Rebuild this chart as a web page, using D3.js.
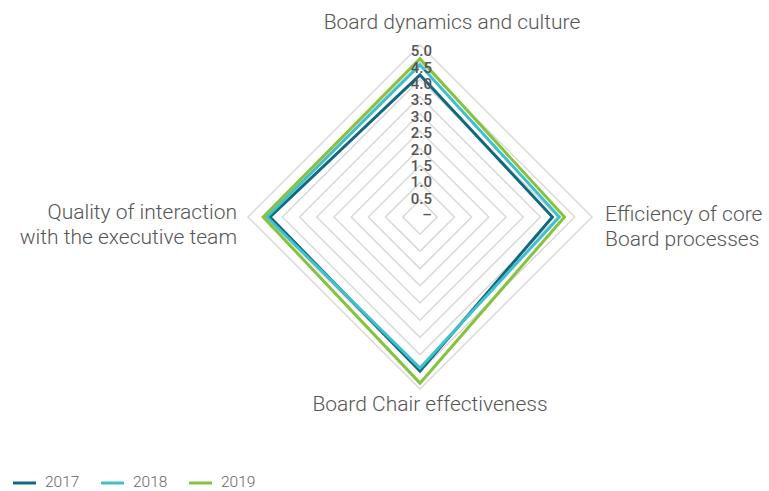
<!DOCTYPE html>
<html>
<head>
<meta charset="utf-8">
<script src="https://cdn.jsdelivr.net/npm/d3@7"></script>
<style>
  body { margin: 0; background: #fff; }
  svg { display: block; font-family: Roboto, "Noto Sans", sans-serif; }
</style>
</head>
<body>
<svg id="chart"></svg>
<script>
const axes = ["Board dynamics and culture", "Efficiency of core Board processes", "Board Chair effectiveness", "Quality of interaction with the executive team"];
const years = ["2017", "2018", "2019"];
const scores2017 = [4.13, 3.85, 4.48, 4.36];
const scores2018 = [4.42, 4.05, 4.39, 4.45];
const scores2019 = [4.6, 4.2, 4.83, 4.56];
const ticks = [0, 0.5, 1, 1.5, 2, 2.5, 3, 3.5, 4, 4.5, 5];
const colors = ["#12687d", "#3fc0cc", "#86c23d"];

const width = 769, height = 491;
const cx = 420, cy = 217, radius = 172;

const svg = d3.select("#chart").attr("width", width).attr("height", height);
const g = svg.append("g").attr("transform", `translate(${cx},${cy})`);

const r = d3.scaleLinear().domain([0, 5]).range([0, radius]);
const angle = d3.scaleBand().domain(axes).range([0, 2 * Math.PI]).align(0);

const ring = d3.lineRadial()
  .angle((d, i) => angle(axes[i]))
  .radius(d => r(d))
  .curve(d3.curveLinearClosed);

// grid rings
g.selectAll(".ring")
  .data(ticks.slice(1))
  .enter().append("path")
  .attr("d", t => ring(axes.map(() => t)))
  .attr("fill", "none")
  .attr("stroke", "#d9d9d9")
  .attr("stroke-width", 1.5);

// series
const series = [scores2017, scores2018, scores2019];
g.selectAll(".series")
  .data(series)
  .enter().append("path")
  .attr("d", d => ring(d))
  .attr("fill", "none")
  .attr("stroke", (d, i) => colors[i])
  .attr("stroke-width", 3)
  .attr("stroke-linejoin", "miter");

// tick labels (slightly tighter than the rings, as in the original)
const tickY = d3.scaleLinear().domain([0, 5]).range([-2, -166]);
g.selectAll(".tick")
  .data(ticks)
  .enter().append("text")
  .attr("x", 12)
  .attr("y", t => tickY(t))
  .attr("dy", "0.35em")
  .attr("text-anchor", "end")
  .style("font-size", "15px")
  .style("font-weight", "500")
  .style("fill", "#555")
  .text(t => t === 0 ? "–" : t.toFixed(1));

// axis labels
const labelStyle = sel => sel.style("font-size", "21px").style("font-weight", "300").style("fill", "#555");

svg.append("text").attr("x", 452).attr("y", 29).attr("text-anchor", "middle")
  .call(labelStyle).text(axes[0]);

const right = svg.append("text").attr("x", 605).attr("text-anchor", "start").call(labelStyle);
right.append("tspan").attr("x", 605).attr("y", 221).text("Efficiency of core");
right.append("tspan").attr("x", 605).attr("y", 246).text("Board processes");

svg.append("text").attr("x", 430).attr("y", 411).attr("text-anchor", "middle")
  .call(labelStyle).text(axes[2]);

const left = svg.append("text").attr("text-anchor", "end").call(labelStyle);
left.append("tspan").attr("x", 237).attr("y", 219).text("Quality of interaction");
left.append("tspan").attr("x", 237).attr("y", 244).text("with the executive team");

// legend
const legendX = d3.scalePoint().domain(years).range([13, 189]);
const legend = svg.selectAll(".legend")
  .data(years)
  .enter().append("g")
  .attr("transform", d => `translate(${legendX(d)},482)`);

legend.append("line")
  .attr("x1", 0).attr("x2", 23)
  .attr("y1", 1).attr("y2", 1)
  .attr("stroke", (d, i) => colors[i])
  .attr("stroke-width", 3);

legend.append("text")
  .attr("x", 32)
  .attr("dy", "0.35em")
  .style("font-size", "15.5px")
  .style("font-weight", "300")
  .style("fill", "#666")
  .text(d => d);
</script>
</body>
</html>
